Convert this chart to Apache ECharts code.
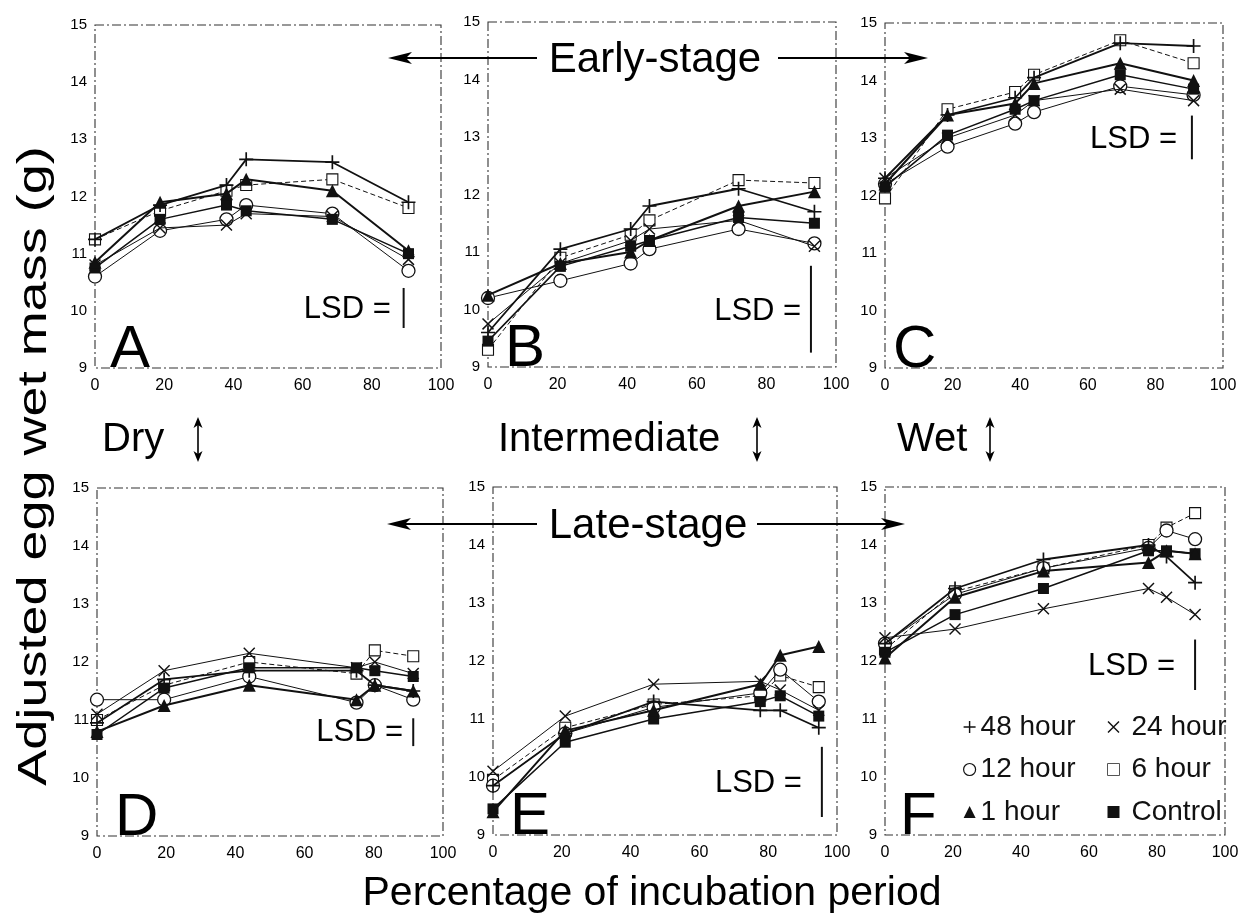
<!DOCTYPE html>
<html><head><meta charset="utf-8">
<script src="https://cdn.jsdelivr.net/npm/echarts@6/dist/echarts.min.js"></script>
<style>html,body{margin:0;padding:0;background:#fff}#c{width:1246px;height:920px}</style>
</head><body><div id="c"></div>
<script>
// ---------- data ----------
const panelNames = ['A', 'B', 'C', 'D', 'E', 'F'];
const xTicks = [0, 20, 40, 60, 80, 100];
const yTicks = [9, 10, 11, 12, 13, 14, 15];
const seriesNames = ['48 hour', '24 hour', '12 hour', '6 hour', '1 hour', 'Control'];

// sampling times (% of incubation period) per panel
const xPos = [
  [0, 18.8, 38, 43.7, 68.6, 90.6],
  [0, 20.8, 41, 46.4, 72, 93.8],
  [0, 18.5, 38.5, 44.1, 69.6, 91.3],
  [0, 19.4, 44, 75, 80.3, 91.4],
  [0, 21, 46.7, 77.7, 83.5, 94.7],
  [0, 20.6, 46.6, 77.5, 82.8, 91.2]
];
const h48 = [
  [11.25, 11.85, 12.2, 12.65, 12.6, 11.9],
  [9.6, 11.05, 11.4, 11.8, 12.1, 11.7],
  [12.3, 13.4, 13.7, 14.05, 14.65, 14.6],
  [10.95, 11.7, 11.85, 11.85, 11.6, 11.5],
  [9.85, 10.75, 11.3, 11.15, 11.15, 10.85],
  [12.3, 13.25, 13.75, 14.0, 13.8, 13.35]
];
const h24 = [
  [10.8, 11.45, 11.5, 11.7, 11.65, 10.9],
  [9.75, 10.8, 11.2, 11.4, 11.55, 11.1],
  [12.3, 13.0, 13.4, 13.65, 13.85, 13.65],
  [11.1, 11.85, 12.15, 11.9, 12.0, 11.8],
  [10.1, 11.05, 11.6, 11.65, 11.5, 11.15],
  [12.4, 12.55, 12.9, 13.25, 13.1, 12.8]
];
const h12 = [
  [10.6, 11.4, 11.6, 11.85, 11.7, 10.7],
  [10.2, 10.5, 10.8, 11.05, 11.4, 11.15],
  [12.2, 12.85, 13.25, 13.45, 13.9, 13.75],
  [11.35, 11.35, 11.75, 11.3, 11.6, 11.35],
  [9.85, 10.75, 11.2, 11.45, 11.85, 11.3],
  [12.3, 13.15, 13.6, 13.95, 14.25, 14.1]
];
const h6 = [
  [11.25, 11.75, 12.1, 12.2, 12.3, 11.8],
  [9.3, 10.9, 11.3, 11.55, 12.25, 12.2],
  [11.95, 13.5, 13.8, 14.1, 14.7, 14.3],
  [11.0, 11.6, 12.0, 11.8, 12.2, 12.1],
  [9.95, 10.85, 11.25, 11.4, 11.75, 11.55],
  [12.2, 13.2, 13.6, 14.0, 14.3, 14.55]
];
const h1 = [
  [10.85, 11.9, 12.05, 12.3, 12.1, 11.05],
  [10.25, 10.8, 11.0, 11.2, 11.8, 12.05],
  [12.2, 13.4, 13.6, 13.95, 14.3, 14.0],
  [10.8, 11.25, 11.6, 11.35, 11.6, 11.5],
  [9.4, 10.8, 11.15, 11.6, 12.1, 12.25],
  [12.05, 13.1, 13.55, 13.7, 13.9, 13.85]
];
const hControl = [
  [10.75, 11.6, 11.85, 11.75, 11.6, 11.0],
  [9.45, 10.75, 11.1, 11.2, 11.6, 11.5],
  [12.15, 13.05, 13.5, 13.65, 14.1, 13.85],
  [10.75, 11.55, 11.9, 11.9, 11.85, 11.75],
  [9.45, 10.6, 11.0, 11.3, 11.4, 11.05],
  [12.15, 12.8, 13.25, 13.9, 13.9, 13.85]
];
// LSD bars (x, low, high) and label anchor
const lsdX = [89.2, 92.8, 90.8, 91.4, 95.6, 91.2];
const lsdLow = [9.7, 9.25, 12.63, 10.55, 9.31, 11.5];
const lsdHigh = [10.4, 10.76, 13.39, 11.03, 10.52, 12.37];
const lsdTextX = [85.5, 90, 86.4, 88.5, 89.8, 85.3];
const lsdTextY = [10.02, 9.97, 12.98, 10.78, 9.89, 11.91];

// ---------- layout ----------
const FONT = "'Liberation Sans', Arial, Helvetica, sans-serif";
const INK = '#111';
const grids = [
  [95, 25, 346, 343],
  [488, 22, 348, 345],
  [885, 23, 338, 345],
  [97, 488, 346, 348],
  [493, 487, 344, 348],
  [885, 487, 340, 348]
];
const plusPath = 'path://M4.4,0H5.6V4.4H10V5.6H5.6V10H4.4V5.6H0V4.4H4.4Z';
const crossPath = 'path://M0,0.85L0.85,0L10,9.15L9.15,10Z M9.15,0L10,0.85L0.85,10L0,9.15Z';

const defs = [
  {name: '6 hour', data: h6, symbol: 'rect', size: 11, fill: '#fff', border: 1.1, width: 1, type: [5, 3]},
  {name: '12 hour', data: h12, symbol: 'circle', size: 13, fill: '#fff', border: 1.3, width: 1, type: 'solid'},
  {name: '24 hour', data: h24, symbol: crossPath, size: 12, fill: INK, border: 0, width: 1, type: 'solid'},
  {name: '48 hour', data: h48, symbol: plusPath, size: 14, fill: INK, border: 0, width: 1.8, type: 'solid'},
  {name: 'Control', data: hControl, symbol: 'rect', size: 11, fill: INK, border: 0, width: 1.5, type: 'solid'},
  {name: '1 hour', data: h1, symbol: 'triangle', size: 13, fill: INK, border: 0, width: 2, type: 'solid'}
];

const series = [];
panelNames.forEach((p, pi) => {
  defs.forEach((d, di) => {
    series.push({
      type: 'line', name: d.name, xAxisIndex: pi, yAxisIndex: pi,
      data: xPos[pi].map((x, i) => [x, d.data[pi][i]]),
      symbol: d.symbol, symbolSize: d.size, showSymbol: true,
      itemStyle: {color: d.fill, borderColor: INK, borderWidth: d.border},
      lineStyle: {color: INK, width: d.width, type: d.type},
      emphasis: {disabled: true}, z: 3 + di
    });
  });
  series.push({
    type: 'line', name: 'LSD', xAxisIndex: pi, yAxisIndex: pi,
    data: [[lsdX[pi], lsdLow[pi]], [lsdX[pi], lsdHigh[pi]]],
    symbol: 'none', lineStyle: {color: INK, width: 2}, silent: true, z: 2
  });
  series.push({
    type: 'scatter', name: 'LSDlabel', xAxisIndex: pi, yAxisIndex: pi,
    data: [[lsdTextX[pi], lsdTextY[pi]]], symbolSize: 0,
    itemStyle: {color: '#000', opacity: 1}, silent: true, z: 10,
    label: {show: true, position: 'left', distance: 0, formatter: 'LSD =',
      fontSize: 31, color: '#000', opacity: 1, fontFamily: FONT}
  });
});

const xAxis = grids.map((g, i) => ({
  gridIndex: i, type: 'value', min: xTicks[0], max: xTicks[xTicks.length - 1],
  interval: xTicks[1] - xTicks[0],
  axisLine: {show: false}, axisTick: {show: false}, splitLine: {show: false},
  axisLabel: {fontSize: 16, color: '#000', margin: 10, fontFamily: FONT}
}));
const yAxis = grids.map((g, i) => ({
  gridIndex: i, type: 'value', min: yTicks[0], max: yTicks[yTicks.length - 1],
  interval: yTicks[1] - yTicks[0],
  axisLine: {show: false}, axisTick: {show: false}, splitLine: {show: false},
  axisLabel: {fontSize: 15, color: '#000', margin: 8, fontFamily: FONT}
}));

// ---------- decorations ----------
const graphic = [];
grids.forEach((g, i) => {
  graphic.push({type: 'rect', shape: {x: g[0], y: g[1], width: g[2], height: g[3]},
    style: {fill: 'none', stroke: '#333', lineWidth: 1.1, lineDash: [9, 3, 2, 3]}, z: 1, silent: true});
});
function txt(t, x, y, size, align, valign, extra) {
  return Object.assign({type: 'text', x: x, y: y, silent: true, z: 20,
    style: {text: t, fontSize: size, fontFamily: FONT, fill: '#000',
      textAlign: align, align: align, textVerticalAlign: valign, verticalAlign: valign}}, extra || {});
}
function hLine(x1, x2, y) {
  return {type: 'line', shape: {x1: x1, y1: y, x2: x2, y2: y}, style: {stroke: '#000', lineWidth: 2.2}, silent: true, z: 20};
}
function head(tipX, y, dir) { // dir -1 points left, +1 points right
  const b = tipX - dir * 24, m = tipX - dir * 18;
  return {type: 'polygon', shape: {points: [[tipX, y], [b, y - 6], [m, y], [b, y + 6]]}, style: {fill: '#000'}, silent: true, z: 20};
}
function vArrow(x, y1, y2) {
  return [
    {type: 'line', shape: {x1: x, y1: y1 + 6, x2: x, y2: y2 - 6}, style: {stroke: '#000', lineWidth: 1.6}, silent: true, z: 20},
    {type: 'polygon', shape: {points: [[x, y1], [x - 4.5, y1 + 11], [x, y1 + 8], [x + 4.5, y1 + 11]]}, style: {fill: '#000'}, silent: true, z: 20},
    {type: 'polygon', shape: {points: [[x, y2], [x - 4.5, y2 - 11], [x, y2 - 8], [x + 4.5, y2 - 11]]}, style: {fill: '#000'}, silent: true, z: 20}
  ];
}
// Early-stage
graphic.push(hLine(400, 537, 58), head(388, 58, -1), hLine(778, 916, 58), head(928, 58, 1));
graphic.push(txt('Early-stage', 655, 60, 42, 'center', 'middle'));
// Late-stage
graphic.push(hLine(399, 537, 524), head(387, 524, -1), hLine(757, 893, 524), head(905, 524, 1));
graphic.push(txt('Late-stage', 648, 526, 42, 'center', 'middle'));
// Dry / Intermediate / Wet
graphic.push(txt('Dry', 102, 440, 40, 'left', 'middle'));
graphic.push(txt('Intermediate', 498, 440, 40, 'left', 'middle'));
graphic.push(txt('Wet', 897, 440, 40, 'left', 'middle'));
graphic.push(...vArrow(198, 417, 462), ...vArrow(757, 417, 462), ...vArrow(990, 417, 462));
// panel letters
const letterPos = [[110, 368], [505, 367], [893, 368], [115, 836], [510, 835], [900, 835]];
panelNames.forEach((p, i) => graphic.push(txt(p, letterPos[i][0], letterPos[i][1] + 12, 60, 'left', 'bottom')));
// axis titles
graphic.push(txt('Adjusted egg wet mass (g)', 35, 466, 40, 'center', 'middle', {rotation: Math.PI / 2, scaleX: 1.35}));
graphic.push(txt('Percentage of incubation period', 652, 894, 41, 'center', 'middle'));

// legend (two columns)
const iconFor = {
  '48 hour': {icon: plusPath, itemStyle: {color: INK, borderWidth: 0}},
  '24 hour': {icon: crossPath, itemStyle: {color: INK, borderWidth: 0}},
  '12 hour': {icon: 'circle', itemStyle: {color: '#fff', borderColor: INK, borderWidth: 1.2}},
  '6 hour': {icon: 'rect', itemStyle: {color: '#fff', borderColor: '#555', borderWidth: 1}},
  '1 hour': {icon: 'triangle', itemStyle: {color: INK, borderWidth: 0}},
  'Control': {icon: 'rect', itemStyle: {color: INK, borderWidth: 0}}
};
function legendCol(names, left, padLeft) {
  return {
    orient: 'vertical', left: left, top: 713, padding: 0, itemGap: 14.5,
    itemWidth: 12, itemHeight: 12, selectedMode: false,
    textStyle: {fontSize: 28, color: INK, fontFamily: FONT, lineHeight: 28, padding: [0, 0, 0, padLeft]},
    data: names.map(n => Object.assign({name: n}, iconFor[n]))
  };
}
const legend = [
  legendCol([seriesNames[0], seriesNames[2], seriesNames[4]], 963, 0),
  legendCol([seriesNames[1], seriesNames[3], seriesNames[5]], 1107, 7)
];

const chart = echarts.init(document.getElementById('c'), null, {renderer: 'canvas'});
chart.setOption({
  animation: false, backgroundColor: '#fff',
  textStyle: {fontFamily: FONT},
  grid: grids.map(g => ({left: g[0], top: g[1], width: g[2], height: g[3]})),
  xAxis: xAxis, yAxis: yAxis, series: series, legend: legend, graphic: graphic
});
</script></body></html>
